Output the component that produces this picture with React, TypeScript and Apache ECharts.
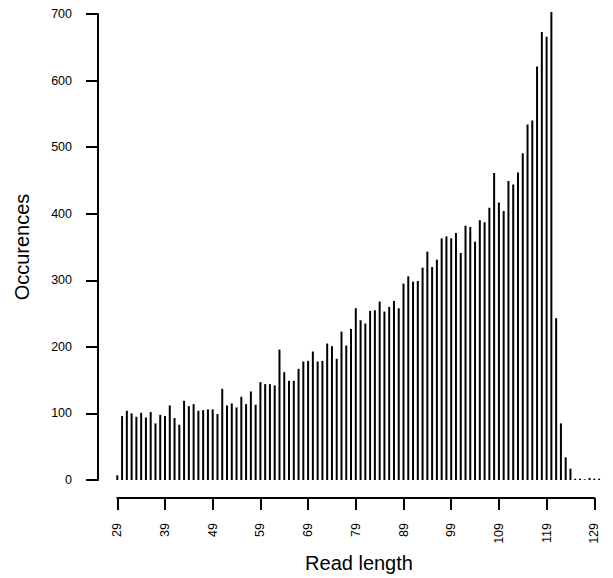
import React, { useEffect, useRef } from "react";
import * as echarts from "echarts";

const readLengths: number[] = [
  29, 30, 31, 32, 33, 34, 35, 36, 37, 38, 39, 40, 41, 42, 43, 44, 45, 46, 47, 48,
  49, 50, 51, 52, 53, 54, 55, 56, 57, 58, 59, 60, 61, 62, 63, 64, 65, 66, 67, 68,
  69, 70, 71, 72, 73, 74, 75, 76, 77, 78, 79, 80, 81, 82, 83, 84, 85, 86, 87, 88,
  89, 90, 91, 92, 93, 94, 95, 96, 97, 98, 99, 100, 101, 102, 103, 104, 105, 106, 107, 108,
  109, 110, 111, 112, 113, 114, 115, 116, 117, 118, 119, 120, 121, 122, 123, 124, 125, 126, 127, 128,
  129, 130,
];

const occurences: number[] = [
  7, 96, 104, 100, 95, 101, 94, 102, 85, 98, 96, 112, 93, 83, 119, 111, 114, 104, 105, 106,
  106, 99, 137, 112, 115, 109, 125, 114, 133, 113, 147, 144, 144, 142, 196, 162, 149, 149, 167, 178,
  179, 193, 178, 179, 205, 201, 182, 223, 202, 227, 258, 240, 235, 254, 255, 268, 253, 260, 269, 258,
  295, 306, 298, 299, 319, 343, 320, 331, 363, 366, 363, 371, 341, 382, 380, 358, 390, 387, 409, 461,
  417, 404, 449, 444, 462, 491, 534, 540, 621, 673, 666, 703, 243, 85, 34, 17, 2, 2, 1, 3,
  2, 2,
];

const xTicks = { min: 29, max: 129, step: 10 };
const yTicks = { min: 0, max: 700, step: 100 };

const FONT = "Liberation Sans, Arial, Helvetica, sans-serif";

export default function App() {
  const ref = useRef<HTMLDivElement>(null);

  useEffect(() => {
    if (!ref.current) return;
    const chart = echarts.init(ref.current, null, { renderer: "svg" });
    const pairs = readLengths.map((x, i) => [x, occurences[i]]);

    chart.setOption({
      animation: false,
      backgroundColor: "#ffffff",
      grid: [
        { left: 117.3, right: 613 - (117.3 + 101 * 4.77), top: 14, bottom: 98 },
        { left: 98, width: 1, top: 14, bottom: 98 },
        { left: 117.3, right: 18.7, top: 497, bottom: 80 },
      ],
      xAxis: [
        { type: "value", gridIndex: 0, min: 29, max: 130, show: false },
        { type: "value", gridIndex: 1, show: false },
        {
          type: "value",
          gridIndex: 2,
          min: xTicks.min,
          max: xTicks.max,
          interval: xTicks.step,
          position: "bottom",
          splitLine: { show: false },
          axisLine: { show: true, lineStyle: { color: "#000", width: 2 } },
          axisTick: { show: true, inside: false, length: 12, lineStyle: { color: "#000", width: 2 } },
          axisLabel: {
            show: true,
            rotate: 90,
            margin: 25,
            color: "#000",
            fontSize: 12.5,
            fontFamily: FONT,
            showMinLabel: true,
            showMaxLabel: true,
          },
        },
      ],
      yAxis: [
        { type: "value", gridIndex: 0, min: 0, max: 700, show: false },
        {
          type: "value",
          gridIndex: 1,
          min: yTicks.min,
          max: yTicks.max,
          interval: yTicks.step,
          position: "left",
          splitLine: { show: false },
          axisLine: { show: true, lineStyle: { color: "#000", width: 2 } },
          axisTick: { show: true, inside: false, length: 12, lineStyle: { color: "#000", width: 2 } },
          axisLabel: {
            show: true,
            margin: 26,
            color: "#000",
            fontSize: 12.5,
            fontFamily: FONT,
          },
        },
        { type: "value", gridIndex: 2, show: false },
      ],
      graphic: [
        {
          type: "text",
          x: 359,
          y: 563,
          style: {
            text: "Read length",
            fontSize: 20,
            fontFamily: FONT,
            fill: "#000",
            align: "center",
            verticalAlign: "middle",
          },
        },
        {
          type: "text",
          x: 22,
          y: 247,
          rotation: Math.PI / 2,
          style: {
            text: "Occurences",
            fontSize: 20,
            fontFamily: FONT,
            fill: "#000",
            align: "center",
            verticalAlign: "middle",
          },
        },
      ],
      series: [
        {
          type: "bar",
          xAxisIndex: 0,
          yAxisIndex: 0,
          data: pairs,
          barWidth: 2,
          clip: false,
          itemStyle: { color: "#000" },
          silent: true,
        },
      ],
    });

    return () => chart.dispose();
  }, []);

  return (
    <div
      ref={ref}
      style={{ position: "fixed", left: 0, top: 0, width: 613, height: 578, background: "#fff" }}
    />
  );
}
